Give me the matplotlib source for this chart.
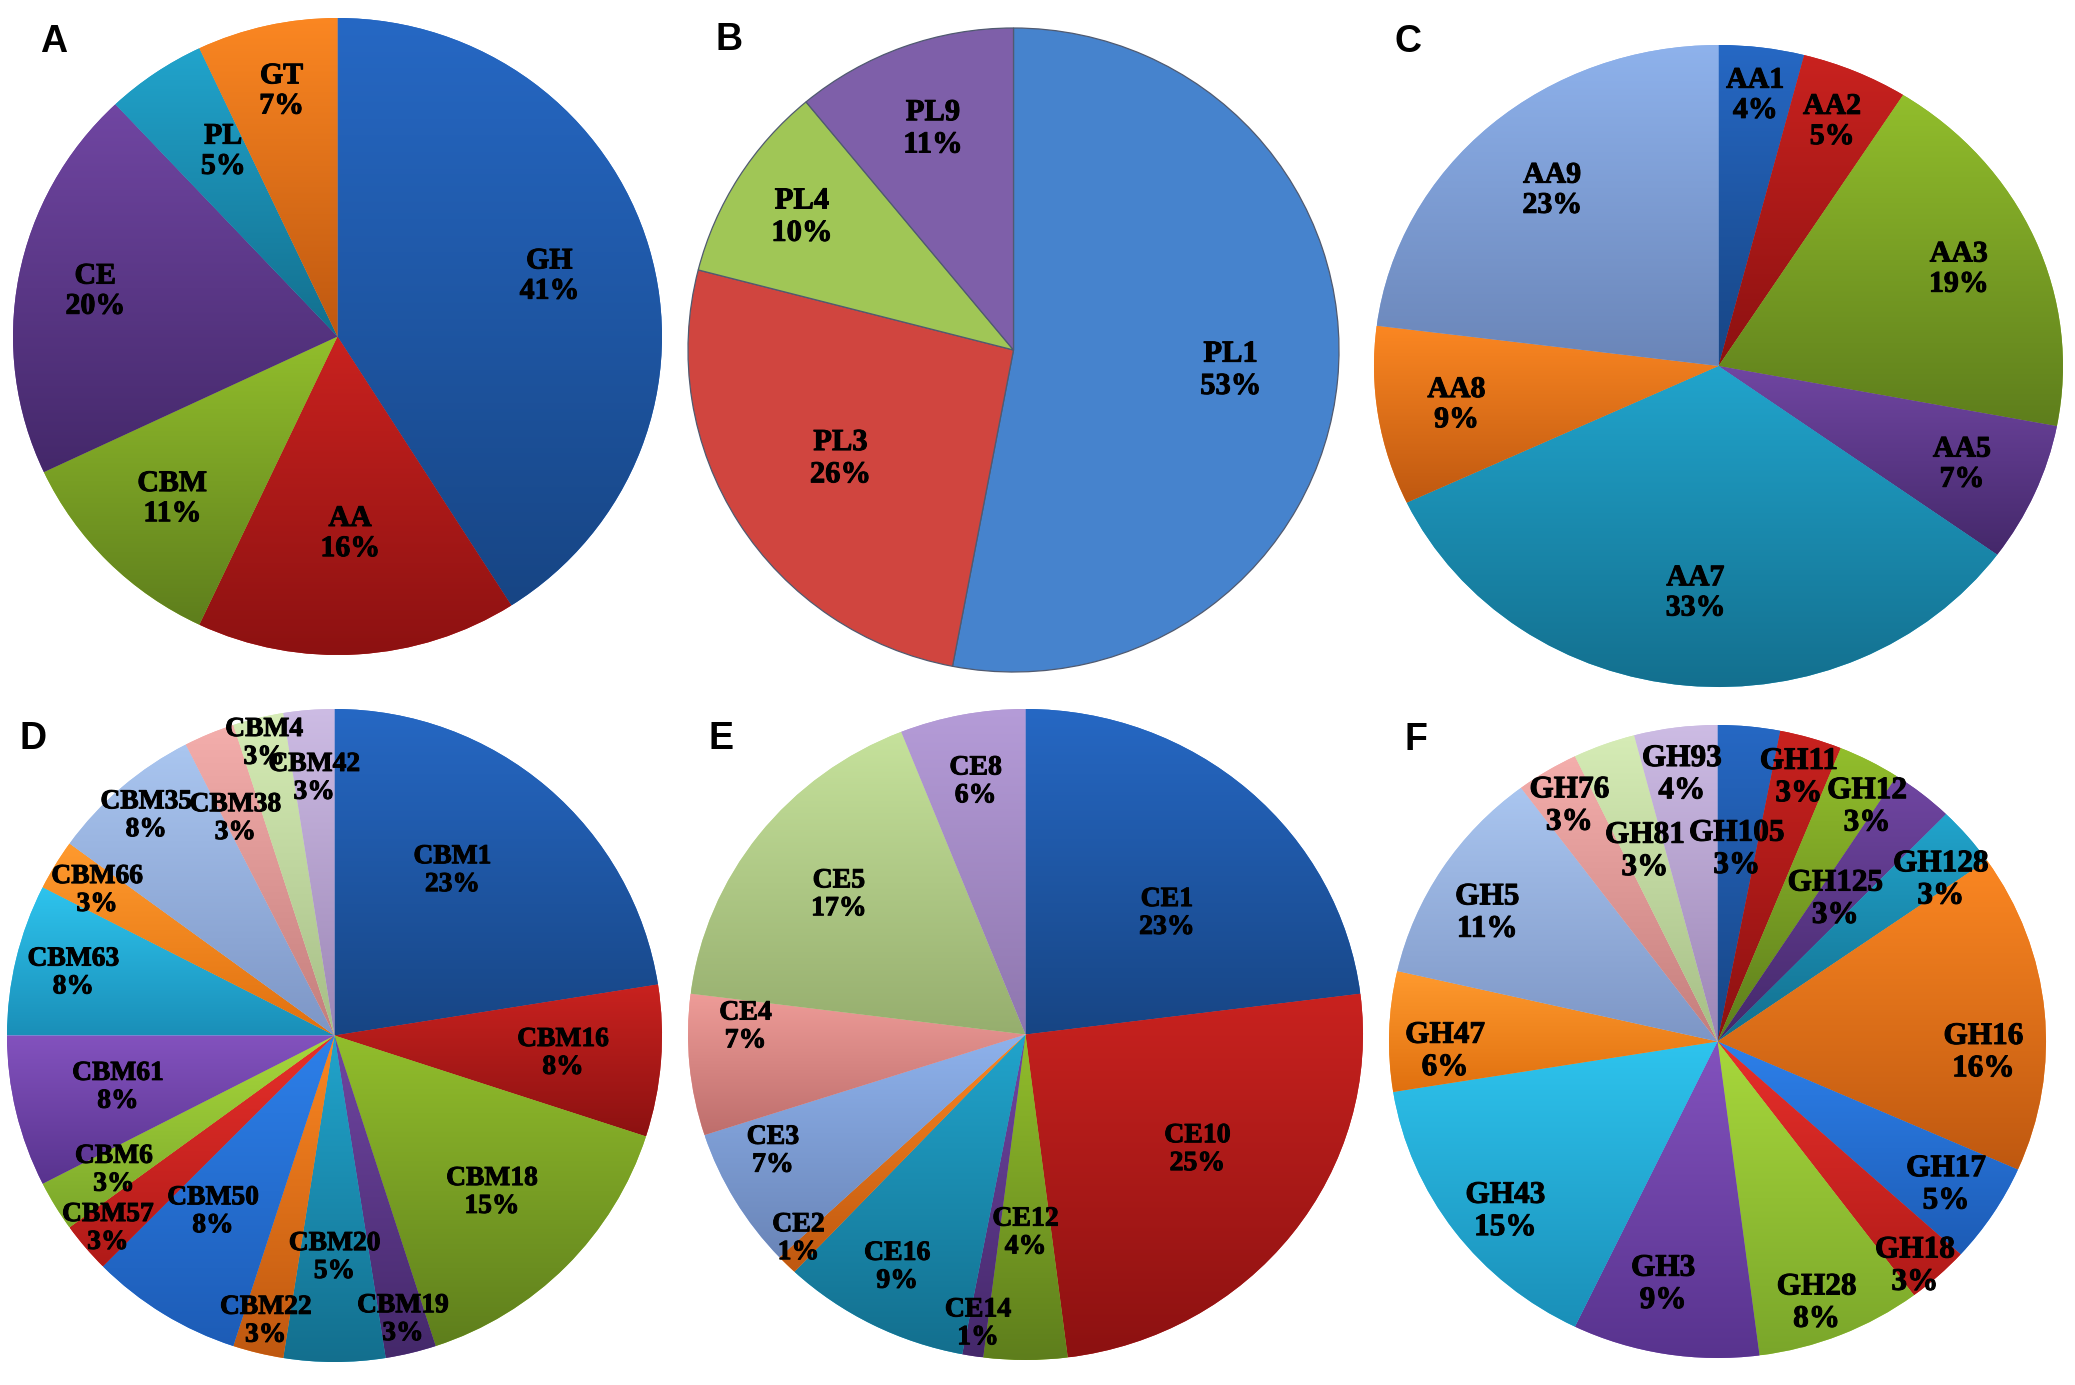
import math
import numpy as np
import matplotlib
matplotlib.use("Agg")
import matplotlib.pyplot as plt
import matplotlib.patheffects as pe
from matplotlib.colors import LinearSegmentedColormap

# ---- data (clockwise from 12 o'clock) ----
a_labels = ["GH", "AA", "CBM", "CE", "PL", "GT"]
a_values = [41, 16, 11, 20, 5, 7]

b_labels = ["PL1", "PL3", "PL4", "PL9"]
b_values = [53, 26, 10, 11]

c_labels = ["AA1", "AA2", "AA3", "AA5", "AA7", "AA8", "AA9"]
c_values = [4, 5, 19, 7, 33, 9, 23]

d_labels = ["CBM1", "CBM16", "CBM18", "CBM19", "CBM20", "CBM22", "CBM50", "CBM57",
            "CBM6", "CBM61", "CBM63", "CBM66", "CBM35", "CBM38", "CBM4", "CBM42"]
d_values = [9, 3, 6, 1, 2, 1, 3, 1, 1, 3, 3, 1, 3, 1, 1, 1]

e_labels = ["CE1", "CE10", "CE12", "CE14", "CE16", "CE2", "CE3", "CE4", "CE5", "CE8"]
e_values = [23, 25, 4, 1, 9, 1, 7, 7, 17, 6]

f_labels = ["GH105", "GH11", "GH12", "GH125", "GH128", "GH16", "GH17", "GH18",
            "GH28", "GH3", "GH43", "GH47", "GH5", "GH76", "GH81", "GH93"]
f_values = [3, 3, 3, 3, 3, 16, 5, 3, 8, 9, 15, 6, 11, 3, 3, 4]

# ---- colours (top, bottom of gradient) ----
DARK = [("#2668C4", "#174584"), ("#C9221F", "#8C1111"), ("#92BE2C", "#5E7E1C"),
        ("#7046A2", "#44286A"), ("#21A4CC", "#136F8E"), ("#FB8722", "#BF5810")]
BRIGHT = [("#2D80EA", "#1D5CB6"), ("#E8302B", "#B01A18"), ("#A8D83C", "#7AA62A"),
          ("#8352BE", "#58338E"), ("#2EC4EE", "#1A8FB8"), ("#FF9A2E", "#E0700F")]
LIGHT = [("#AAC6F0", "#7D96C6"), ("#F4AEAC", "#C47E7C"), ("#D6ECB6", "#A6BE86"),
         ("#CDBCE4", "#9C86B6")]
MID = [("#8EB2EC", "#6A85B8"), ("#EE9C98", "#BE6E6C"), ("#C6E29C", "#96AE6E"),
       ("#B59CD8", "#8E76AE")]

a_colors = DARK
b_colors = [("#4683CD", "#4683CD"), ("#D0453F", "#D0453F"),
            ("#A0C656", "#A0C656"), ("#7E5FA9", "#7E5FA9")]
c_colors = DARK[:6] + MID[:1]
d_colors = DARK + BRIGHT + LIGHT
e_colors = DARK + MID
f_colors = DARK + BRIGHT + LIGHT

# label radius (fraction of pie radius) and angle nudge (deg, clockwise)
a_rad = [0.68, 0.62, 0.72, 0.76, 0.68, 0.79]
b_rad = [0.67, 0.63, 0.77, 0.73]
c_rad = [0.85, 0.83, 0.76, 0.77, 0.71, 0.77, 0.73]
d_rad = [0.62, 0.70, 0.68, 0.895, 0.68, 0.90, 0.655, 0.91, 0.79, 0.68, 0.82, 0.85,
         0.885, 0.73, 0.92, 0.79]
e_rad = [0.56, 0.62, 0.61, 0.90, 0.81, 0.92, 0.83, 0.83, 0.70, 0.79]
f_rad = [0.61, 0.87, 0.87, 0.575, 0.85, 0.81, 0.83, 0.93, 0.88, 0.785, 0.84, 0.83,
         0.81, 0.87, 0.64, 0.85]
a_nudge = {"PL": 3}
d_nudge = {"CBM1": -5, "CBM50": 3, "CBM38": -2}
e_nudge = {"CE1": 7, "CE10": -3, "CE3": 5, "CE4": 7, "CE16": 1, "CE2": 2}
f_nudge = {"GH12": 4, "GH16": 8, "GH128": 3.5, "GH43": -3, "GH47": -4, "GH5": -3,
           "GH28": 2, "GH3": 3, "GH18": 2}

W, H = 2075, 1385
fig = plt.figure(figsize=(W / 100, H / 100), dpi=100)
fig.patch.set_facecolor("white")


def add_pie_axes(x0, y0, x1, y1):
    return fig.add_axes([x0 / W, 1 - y1 / H, (x1 - x0) / W, (y1 - y0) / H])


def draw_pie(ax, labels, values, colors, radii, nudge, fsize, edge=None):
    lw = 0.9 if edge else 0
    wedges, _ = ax.pie(values, startangle=90, counterclock=False,
                       colors=[c[0] for c in colors],
                       wedgeprops=dict(linewidth=lw, edgecolor=edge or "none"))
    total = float(sum(values))
    cum = 0.0
    for w, lab, v, col, r in zip(wedges, labels, values, colors, radii):
        if col[0] != col[1]:
            verts = w.get_path().vertices
            x0, x1 = verts[:, 0].min(), verts[:, 0].max()
            y0, y1 = verts[:, 1].min(), verts[:, 1].max()
            cmap = LinearSegmentedColormap.from_list("g", [col[1], col[0]])
            im = ax.imshow(np.linspace(0, 1, 256).reshape(-1, 1), extent=(x0, x1, y0, y1),
                           origin="lower", cmap=cmap, aspect="auto",
                           interpolation="bilinear", zorder=w.get_zorder() + 0.1)
            im.set_clip_path(w)
        pct = math.floor(100 * v / total + 0.5)
        ang = math.radians(90 - 360 * (cum + v / 2) / total - nudge.get(lab, 0))
        ax.text(r * math.cos(ang), r * math.sin(ang), "%s\n%d%%" % (lab, pct),
                ha="center", va="center", fontsize=fsize, fontweight="bold",
                family=["Liberation Serif", "DejaVu Serif"], color="black",
                linespacing=1.15, zorder=10,
                path_effects=[pe.withStroke(linewidth=0.7, foreground="black")])
        cum += v
    ax.set_xlim(-1, 1)
    ax.set_ylim(-1, 1)
    ax.set_aspect("auto")
    ax.axis("off")


panels = [
    ("A", (13, 18, 662, 655), (54, 42), a_labels, a_values, a_colors, a_rad, a_nudge, 21.5, None),
    ("B", (688, 28, 1339, 672), (729, 40), b_labels, b_values, b_colors, b_rad, {}, 22, "#505A70"),
    ("C", (1374, 45, 2063, 687), (1408, 42), c_labels, c_values, c_colors, c_rad, {}, 21.5, None),
    ("D", (7, 709, 662, 1362), (33, 739), d_labels, d_values, d_colors, d_rad, d_nudge, 19.8, None),
    ("E", (688, 709, 1363, 1360), (721, 739), e_labels, e_values, e_colors, e_rad, e_nudge, 20, None),
    ("F", (1389, 725, 2046, 1358), (1416, 740), f_labels, f_values, f_colors, f_rad, f_nudge, 22.5, None),
]

for letter, box, lpos, labs, vals, cols, rads, nud, fs, edge in panels:
    ax = add_pie_axes(*box)
    draw_pie(ax, labs, vals, cols, rads, nud, fs, edge)
    fig.text(lpos[0] / W, 1 - lpos[1] / H, letter, ha="center", va="center",
             fontsize=27, fontweight="bold", family=["Liberation Sans", "DejaVu Sans"])

fig.savefig("out.png", dpi=100, facecolor="white")
